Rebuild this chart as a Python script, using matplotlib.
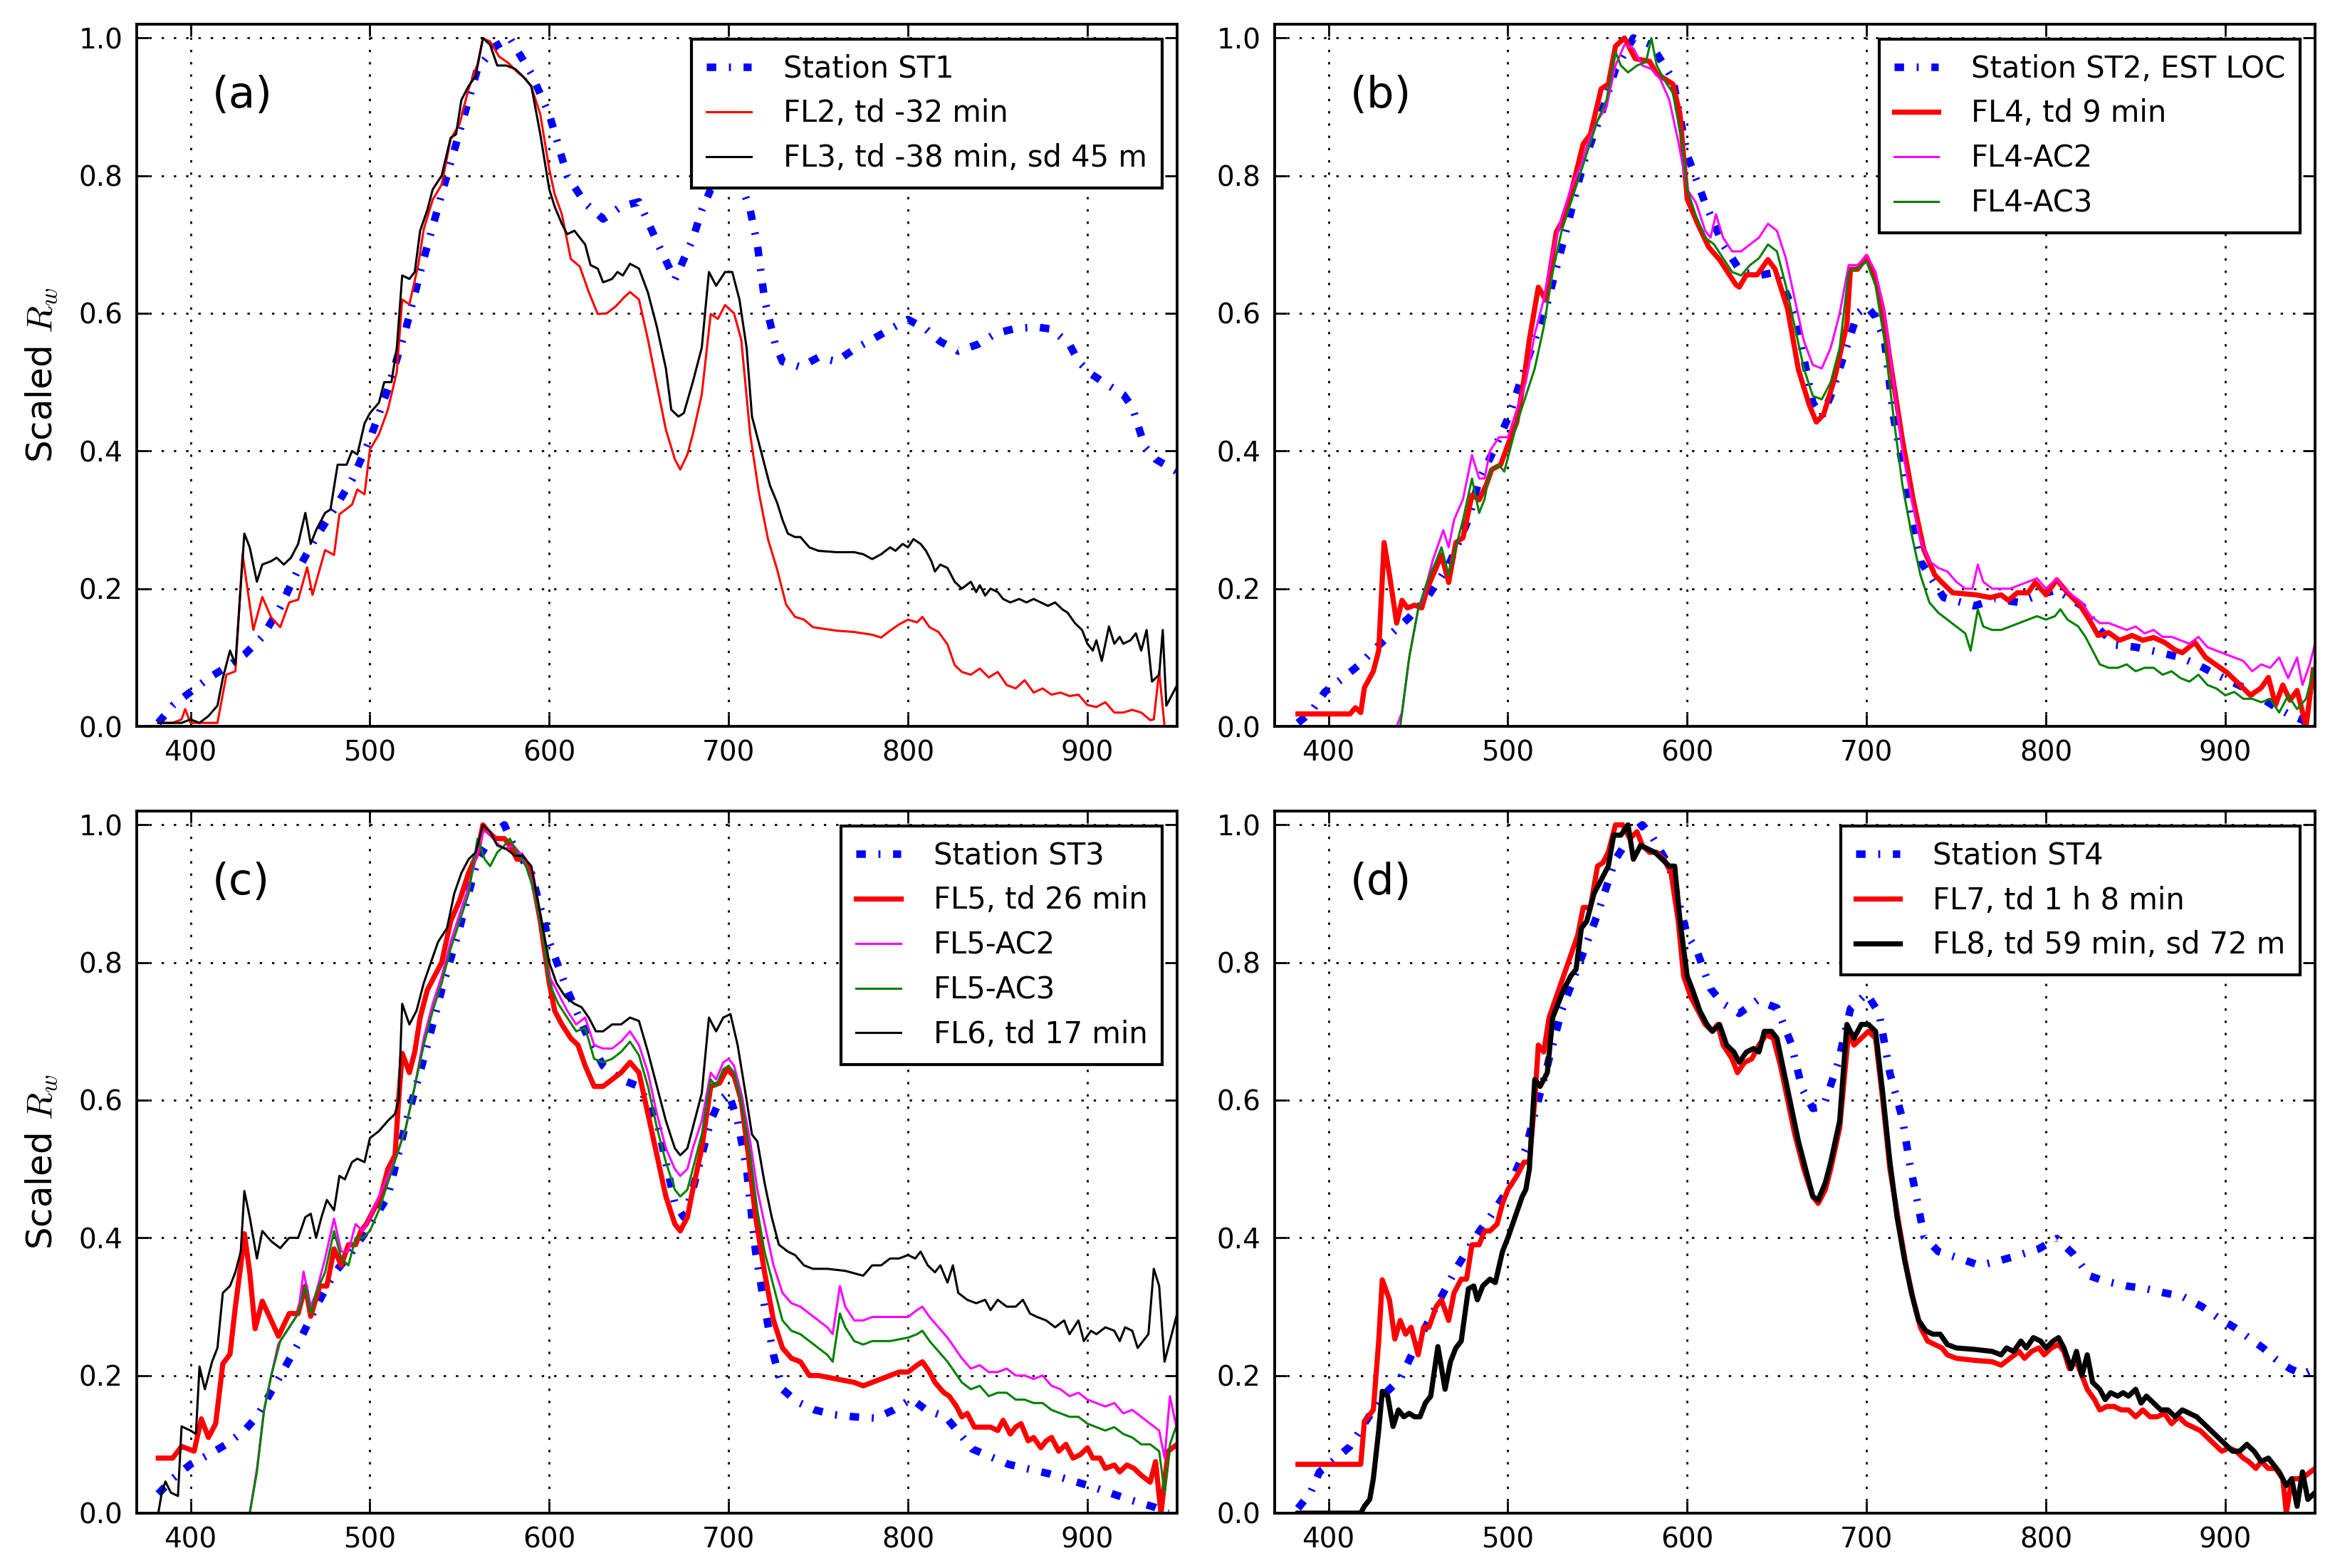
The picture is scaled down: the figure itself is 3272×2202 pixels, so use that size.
import matplotlib
matplotlib.use('Agg')
import matplotlib.pyplot as plt

# ---------------- data (wavelength nm, scaled Rw) ----------------
# Panel (a)
st1 = [(382,0.005),(390,0.03),(400,0.05),(410,0.07),(420,0.086),(430,0.104),(440,0.13),(450,0.173),
       (460,0.228),(470,0.275),(480,0.315),(490,0.358),(500,0.417),(510,0.49),(520,0.577),(530,0.679),
       (540,0.773),(550,0.864),(560,0.955),(570,0.988),(578,1.0),(590,0.948),(600,0.889),(610,0.80),
       (620,0.76),(630,0.737),(640,0.755),(650,0.762),(660,0.704),(670,0.649),(680,0.708),(685,0.75),
       (690,0.78),(700,0.80),(708,0.78),(712,0.75),(716,0.70),(720,0.62),(726,0.555),(730,0.53),
       (740,0.522),(750,0.536),(760,0.53),(770,0.548),(780,0.562),(790,0.577),(800,0.591),(810,0.577),
       (818,0.559),(828,0.545),(839,0.555),(849,0.571),(860,0.578),(872,0.58),(880,0.577),(890,0.555),
       (895,0.53),(902,0.512),(910,0.498),(920,0.482),(925,0.464),(932,0.406),(938,0.388),(950,0.37)]
fl2 = [(382,0.005),(390,0.005),(395,0.01),(397,0.025),(400,0.005),(410,0.005),(415,0.005),(420,0.075),
       (425,0.08),(429,0.25),(435,0.14),(440,0.188),(445,0.158),(450,0.144),(455,0.18),(460,0.184),
       (465,0.231),(468,0.191),(475,0.256),(480,0.249),(483,0.308),(490,0.322),(493,0.344),(497,0.337),
       (500,0.402),(505,0.424),(510,0.46),(515,0.515),(518,0.62),(522,0.613),(527,0.671),(530,0.722),
       (535,0.765),(540,0.787),(545,0.853),(550,0.875),(555,0.926),(560,0.962),(563,0.999),(567,0.995),
       (572,0.973),(577,0.964),(582,0.951),(587,0.94),(590,0.929),(595,0.889),(600,0.809),(603,0.773),
       (607,0.744),(612,0.679),(617,0.668),(622,0.631),(627,0.599),(632,0.60),(637,0.61),(642,0.624),
       (645,0.631),(650,0.62),(655,0.562),(660,0.496),(665,0.431),(670,0.388),(673,0.373),(677,0.395),
       (680,0.424),(685,0.482),(690,0.599),(694,0.592),(698,0.612),(703,0.60),(707,0.562),(712,0.424),
       (717,0.337),(722,0.271),(727,0.228),(732,0.177),(737,0.159),(742,0.155),(747,0.144),(760,0.139),
       (770,0.137),(780,0.133),(785,0.129),(790,0.139),(795,0.148),(800,0.155),(805,0.151),(808,0.159),
       (812,0.144),(817,0.137),(822,0.119),(826,0.089),(830,0.079),(835,0.075),(840,0.084),(845,0.071),
       (850,0.079),(855,0.06),(860,0.055),(865,0.067),(870,0.049),(875,0.055),(880,0.046),(885,0.049),
       (890,0.044),(895,0.046),(900,0.031),(905,0.028),(910,0.035),(915,0.02),(920,0.02),(925,0.024),
       (930,0.02),(935,0.009),(937,0.01),(940,0.08),(943,0.0),(950,0.0)]
fl3 = [(382,0.005),(395,0.005),(400,0.01),(405,0.005),(410,0.015),(415,0.03),(418,0.07),(422,0.11),
       (425,0.09),(430,0.28),(433,0.26),(437,0.21),(440,0.235),(445,0.24),(448,0.245),(452,0.235),
       (456,0.245),(460,0.265),(464,0.31),(467,0.265),(470,0.285),(475,0.31),(478,0.315),(482,0.38),
       (487,0.38),(490,0.40),(493,0.395),(497,0.44),(500,0.455),(505,0.47),(508,0.50),(512,0.50),
       (515,0.55),(518,0.655),(522,0.65),(525,0.66),(528,0.72),(532,0.75),(535,0.78),(540,0.80),
       (545,0.855),(548,0.86),(551,0.91),(555,0.93),(559,0.945),(563,1.0),(567,0.99),(571,0.96),
       (576,0.96),(581,0.955),(585,0.945),(590,0.93),(595,0.86),(600,0.78),(603,0.755),(607,0.73),
       (610,0.715),(614,0.72),(617,0.71),(620,0.70),(623,0.67),(627,0.665),(630,0.645),(635,0.65),
       (638,0.66),(641,0.655),(645,0.672),(650,0.665),(655,0.63),(660,0.58),(665,0.52),(668,0.46),
       (672,0.45),(675,0.455),(680,0.50),(685,0.55),(689,0.66),(693,0.64),(698,0.66),(702,0.66),
       (706,0.62),(710,0.55),(713,0.45),(716,0.42),(720,0.38),(723,0.35),(727,0.325),(730,0.30),
       (733,0.28),(737,0.275),(740,0.275),(745,0.26),(750,0.255),(760,0.253),(770,0.253),(775,0.25),
       (780,0.243),(785,0.25),(790,0.26),(793,0.255),(797,0.265),(800,0.26),(803,0.272),(807,0.265),
       (810,0.255),(813,0.24),(815,0.225),(818,0.235),(822,0.23),(826,0.21),(830,0.20),(835,0.21),
       (838,0.195),(840,0.205),(843,0.19),(846,0.20),(850,0.195),(853,0.185),(857,0.18),(862,0.185),
       (866,0.18),(870,0.185),(874,0.18),(878,0.175),(882,0.18),(886,0.17),(889,0.165),(893,0.15),
       (897,0.14),(900,0.12),(903,0.11),(905,0.125),(908,0.095),(912,0.145),(915,0.12),(918,0.13),
       (920,0.12),(924,0.125),(927,0.135),(930,0.11),(933,0.14),(936,0.065),(940,0.075),(942,0.14),
       (944,0.03),(947,0.045),(950,0.06)]

# Panel (b)
st2 = [(383,0.005),(390,0.02),(398,0.05),(408,0.07),(417,0.089),(425,0.11),(433,0.13),(445,0.158),
       (455,0.187),(467,0.234),(478,0.30),(484,0.358),(492,0.40),(501,0.453),(511,0.533),(521,0.605),
       (532,0.715),(542,0.817),(552,0.889),(560,0.955),(570,1.0),(580,0.99),(592,0.94),(600,0.83),
       (610,0.76),(620,0.70),(630,0.66),(640,0.655),(650,0.66),(660,0.60),(670,0.47),(675,0.45),
       (680,0.48),(690,0.56),(695,0.60),(700,0.61),(705,0.595),(710,0.56),(715,0.45),(720,0.38),
       (725,0.30),(730,0.24),(743,0.187),(760,0.175),(772,0.185),(785,0.18),(795,0.19),(806,0.198),
       (820,0.175),(830,0.14),(839,0.118),(850,0.115),(864,0.107),(875,0.10),(885,0.089),(895,0.075),
       (905,0.063),(915,0.05),(926,0.031),(935,0.018),(943,0.009),(946,0.003)]
fl4 = [(383,0.018),(412,0.018),(415,0.027),(418,0.02),(420,0.056),(425,0.08),(428,0.11),(431,0.267),
       (434,0.22),(438,0.15),(441,0.183),(444,0.172),(448,0.176),(452,0.172),(455,0.20),(460,0.23),
       (463,0.249),(467,0.209),(471,0.267),(475,0.274),(480,0.336),(484,0.329),(488,0.351),(491,0.373),
       (496,0.38),(500,0.409),(505,0.442),(509,0.504),(512,0.562),(517,0.638),(521,0.62),(527,0.718),
       (531,0.737),(534,0.762),(542,0.846),(546,0.86),(552,0.926),(556,0.933),(560,0.988),(565,1.0),
       (571,0.97),(579,0.966),(583,0.948),(592,0.933),(596,0.889),(600,0.766),(606,0.729),(612,0.696),
       (618,0.678),(627,0.642),(629,0.638),(633,0.656),(639,0.656),(645,0.678),(649,0.664),(656,0.606),
       (662,0.518),(668,0.467),(672,0.442),(676,0.453),(682,0.504),(689,0.584),(691,0.664),(695,0.664),
       (700,0.682),(705,0.649),(709,0.606),(713,0.533),(720,0.416),(726,0.329),(732,0.256),(738,0.22),
       (742,0.209),(748,0.194),(761,0.191),(769,0.187),(775,0.191),(779,0.183),(784,0.194),(790,0.194),
       (794,0.209),(800,0.191),(806,0.213),(812,0.194),(819,0.176),(825,0.151),(829,0.132),(835,0.136),
       (841,0.125),(848,0.132),(854,0.125),(860,0.129),(866,0.122),(872,0.111),(876,0.107),(883,0.122),
       (889,0.10),(895,0.089),(901,0.078),(907,0.063),(914,0.045),(920,0.056),(924,0.071),(928,0.031),
       (932,0.06),(936,0.038),(940,0.052),(945,0.0),(949,0.082)]
fl4_ac2 = [(438,0.0),(441,0.02),(445,0.10),(450,0.17),(453,0.19),(458,0.24),(462,0.27),(464,0.285),
           (467,0.26),(470,0.30),(475,0.33),(480,0.394),(484,0.36),(487,0.36),(490,0.40),(495,0.42),
           (500,0.42),(505,0.46),(510,0.50),(515,0.57),(520,0.62),(525,0.69),(530,0.74),(535,0.78),
           (540,0.81),(545,0.85),(550,0.88),(555,0.90),(560,0.96),(565,0.99),(570,0.985),(575,0.96),
           (580,0.955),(585,0.94),(590,0.91),(595,0.85),(600,0.78),(605,0.76),(610,0.72),(613,0.71),
           (616,0.744),(620,0.71),(625,0.69),(630,0.69),(635,0.70),(640,0.71),(645,0.73),(650,0.72),
           (655,0.68),(660,0.62),(665,0.56),(670,0.525),(675,0.52),(680,0.55),(685,0.60),(690,0.67),
           (695,0.67),(700,0.685),(705,0.66),(710,0.60),(715,0.50),(720,0.40),(725,0.33),(730,0.27),
           (735,0.24),(740,0.23),(745,0.225),(750,0.21),(755,0.20),(759,0.20),(762,0.235),(765,0.21),
           (770,0.20),(775,0.20),(780,0.20),(785,0.205),(790,0.21),(795,0.215),(800,0.20),(806,0.215),
           (810,0.20),(815,0.19),(820,0.18),(825,0.16),(830,0.15),(835,0.15),(840,0.145),(845,0.14),
           (850,0.145),(855,0.135),(860,0.14),(865,0.13),(870,0.13),(875,0.125),(880,0.12),(885,0.13),
           (890,0.115),(895,0.11),(900,0.105),(905,0.10),(910,0.095),(915,0.08),(920,0.09),(925,0.085),
           (930,0.10),(935,0.07),(940,0.10),(943,0.06),(947,0.09),(950,0.12)]
fl4_ac3 = [(440,0.0),(445,0.10),(450,0.17),(455,0.21),(460,0.24),(463,0.26),(467,0.22),(470,0.25),
           (475,0.30),(480,0.36),(484,0.31),(487,0.33),(490,0.37),(495,0.38),(498,0.37),(502,0.41),
           (505,0.44),(510,0.48),(515,0.52),(520,0.58),(525,0.66),(530,0.72),(535,0.76),(540,0.80),
           (545,0.84),(550,0.88),(555,0.91),(560,0.98),(563,0.96),(567,0.95),(572,0.96),(577,0.965),
           (580,1.0),(583,0.96),(587,0.94),(592,0.92),(597,0.85),(600,0.78),(605,0.74),(610,0.71),
           (615,0.70),(620,0.68),(625,0.66),(630,0.655),(635,0.67),(640,0.68),(645,0.70),(650,0.69),
           (655,0.64),(660,0.58),(665,0.52),(670,0.48),(675,0.475),(680,0.50),(685,0.55),(690,0.66),
           (695,0.665),(700,0.675),(705,0.64),(710,0.56),(715,0.45),(720,0.35),(725,0.28),(730,0.22),
           (735,0.18),(740,0.165),(745,0.155),(750,0.145),(755,0.135),(758,0.11),(762,0.17),(765,0.145),
           (770,0.14),(775,0.14),(780,0.145),(785,0.15),(790,0.155),(795,0.16),(800,0.155),(805,0.16),
           (808,0.17),(812,0.155),(818,0.145),(822,0.13),(825,0.115),(830,0.09),(835,0.085),(840,0.085),
           (845,0.09),(850,0.08),(855,0.085),(860,0.085),(865,0.075),(870,0.08),(875,0.07),(880,0.065),
           (885,0.075),(890,0.06),(895,0.055),(900,0.045),(905,0.05),(910,0.04),(915,0.04),(920,0.035),
           (925,0.04),(930,0.02),(935,0.045),(940,0.025),(945,0.04),(950,0.09)]

# Panel (c)
st3 = [(382,0.028),(390,0.05),(400,0.071),(410,0.085),(420,0.10),(430,0.12),(437,0.14),(449,0.195),
       (460,0.246),(470,0.30),(480,0.348),(490,0.38),(497,0.406),(510,0.46),(520,0.566),(530,0.66),
       (540,0.76),(550,0.85),(560,0.95),(570,0.99),(575,1.0),(580,0.97),(590,0.93),(600,0.83),
       (610,0.76),(620,0.70),(630,0.65),(640,0.63),(650,0.62),(660,0.57),(670,0.45),(675,0.43),
       (680,0.47),(690,0.57),(695,0.60),(700,0.61),(705,0.57),(710,0.50),(715,0.38),(720,0.30),
       (725,0.23),(730,0.18),(738,0.162),(748,0.15),(759,0.143),(770,0.14),(782,0.138),(792,0.15),
       (802,0.166),(810,0.15),(821,0.14),(836,0.093),(856,0.071),(879,0.057),(902,0.039),(923,0.02),
       (937,0.009),(945,0.0)]
fl5 = [(382,0.08),(390,0.08),(395,0.097),(402,0.09),(406,0.137),(410,0.11),(414,0.13),(418,0.217),
       (422,0.231),(425,0.30),(428,0.36),(430,0.406),(433,0.35),(436,0.268),(440,0.308),(445,0.28),
       (449,0.257),(455,0.29),(460,0.29),(464,0.33),(467,0.286),(472,0.33),(476,0.33),(480,0.384),
       (484,0.36),(488,0.39),(492,0.39),(495,0.41),(498,0.42),(502,0.44),(506,0.46),(510,0.50),
       (514,0.52),(516,0.60),(518,0.668),(522,0.64),(525,0.67),(528,0.72),(532,0.76),(536,0.78),
       (540,0.80),(545,0.86),(550,0.89),(555,0.93),(560,0.96),(563,1.0),(566,0.99),(570,0.98),
       (575,0.98),(578,0.97),(582,0.95),(586,0.95),(590,0.93),(595,0.86),(600,0.77),(603,0.73),
       (607,0.71),(612,0.69),(616,0.68),(620,0.65),(625,0.62),(630,0.62),(635,0.63),(640,0.64),
       (645,0.655),(650,0.64),(655,0.58),(660,0.52),(665,0.46),(670,0.42),(673,0.41),(677,0.43),
       (680,0.47),(685,0.53),(690,0.62),(695,0.625),(699,0.645),(703,0.635),(707,0.60),(711,0.52),
       (715,0.43),(720,0.35),(725,0.28),(730,0.24),(735,0.225),(740,0.22),(745,0.20),(750,0.20),
       (760,0.195),(770,0.19),(775,0.185),(780,0.19),(785,0.195),(790,0.20),(795,0.205),(800,0.205),
       (805,0.215),(808,0.22),(812,0.205),(815,0.19),(820,0.175),(823,0.17),(827,0.155),(830,0.14),
       (833,0.145),(837,0.125),(842,0.125),(846,0.125),(850,0.12),(853,0.135),(857,0.115),(860,0.125),
       (863,0.13),(867,0.105),(870,0.11),(874,0.095),(877,0.105),(880,0.11),(884,0.09),(888,0.10),
       (892,0.08),(896,0.085),(900,0.095),(903,0.08),(907,0.08),(910,0.065),(915,0.07),(918,0.06),
       (922,0.07),(926,0.065),(930,0.055),(935,0.045),(938,0.075),(941,0.0),(945,0.09),(950,0.10)]
fl5_ac2 = [(382,0.0),(433,0.0),(437,0.064),(441,0.15),(445,0.20),(449,0.246),(455,0.27),(460,0.29),
           (463,0.351),(467,0.30),(470,0.32),(475,0.37),(480,0.428),(484,0.38),(488,0.38),(492,0.42),
           (496,0.41),(500,0.43),(505,0.46),(510,0.49),(515,0.52),(520,0.56),(525,0.62),(530,0.69),
           (535,0.74),(540,0.78),(545,0.83),(550,0.87),(555,0.91),(560,0.96),(563,0.99),(566,0.99),
           (570,0.975),(575,0.965),(580,0.97),(585,0.955),(590,0.92),(595,0.86),(600,0.78),(605,0.755),
           (610,0.73),(615,0.71),(620,0.72),(625,0.68),(630,0.675),(635,0.675),(640,0.685),(645,0.70),
           (650,0.68),(655,0.64),(660,0.58),(665,0.53),(670,0.50),(673,0.49),(677,0.50),(680,0.53),
           (685,0.57),(690,0.64),(693,0.63),(697,0.655),(700,0.66),(703,0.65),(707,0.61),(712,0.54),
           (716,0.47),(720,0.42),(725,0.36),(730,0.32),(735,0.305),(740,0.30),(745,0.29),(750,0.28),
           (755,0.27),(758,0.26),(762,0.33),(765,0.30),(770,0.28),(775,0.28),(780,0.285),(790,0.285),
           (800,0.285),(805,0.295),(808,0.30),(812,0.285),(817,0.27),(822,0.255),(826,0.24),(830,0.225),
           (835,0.21),(840,0.215),(845,0.205),(850,0.205),(855,0.21),(860,0.20),(865,0.20),(870,0.195),
           (875,0.20),(880,0.185),(885,0.18),(890,0.17),(895,0.175),(900,0.165),(905,0.16),(910,0.155),
           (915,0.16),(920,0.145),(925,0.15),(930,0.14),(935,0.13),(940,0.12),(943,0.08),(946,0.17),
           (950,0.12)]
fl5_ac3 = [(382,0.0),(433,0.0),(437,0.06),(441,0.15),(445,0.20),(450,0.25),(455,0.27),(460,0.29),
           (464,0.33),(467,0.29),(470,0.32),(475,0.35),(480,0.41),(484,0.37),(488,0.36),(492,0.40),
           (496,0.40),(500,0.41),(505,0.44),(510,0.48),(515,0.52),(520,0.56),(525,0.62),(530,0.68),
           (535,0.73),(540,0.77),(545,0.82),(550,0.86),(555,0.90),(560,0.98),(564,0.95),(567,0.94),
           (571,0.96),(575,0.97),(578,0.98),(582,0.96),(587,0.94),(592,0.90),(597,0.83),(600,0.77),
           (605,0.74),(610,0.72),(615,0.70),(620,0.705),(625,0.66),(630,0.655),(635,0.66),(640,0.67),
           (645,0.685),(650,0.665),(655,0.62),(660,0.56),(665,0.51),(670,0.47),(673,0.46),(677,0.47),
           (680,0.50),(685,0.55),(690,0.63),(693,0.62),(697,0.645),(700,0.65),(703,0.64),(707,0.60),
           (712,0.52),(716,0.44),(720,0.38),(725,0.33),(730,0.28),(735,0.265),(740,0.26),(745,0.25),
           (750,0.24),(755,0.23),(758,0.22),(762,0.29),(765,0.27),(770,0.25),(775,0.245),(780,0.25),
           (790,0.25),(800,0.255),(805,0.26),(808,0.265),(812,0.25),(817,0.235),(822,0.22),(826,0.205),
           (830,0.19),(835,0.18),(840,0.185),(845,0.17),(850,0.175),(855,0.175),(860,0.165),(865,0.165),
           (870,0.16),(875,0.16),(880,0.15),(885,0.145),(890,0.14),(895,0.14),(900,0.13),(905,0.125),
           (910,0.12),(915,0.125),(920,0.115),(925,0.11),(930,0.10),(935,0.10),(940,0.09),(943,0.03),
           (946,0.10),(950,0.13)]
fl6 = [(382,0.0),(384,0.03),(386,0.046),(389,0.03),(393,0.025),(395,0.126),(400,0.12),(403,0.115),
       (405,0.213),(408,0.18),(412,0.22),(415,0.24),(418,0.32),(422,0.33),(425,0.35),(428,0.38),
       (430,0.468),(433,0.43),(437,0.37),(440,0.41),(445,0.395),(450,0.385),(455,0.40),(460,0.40),
       (464,0.43),(467,0.435),(470,0.40),(473,0.43),(476,0.455),(480,0.44),(483,0.49),(486,0.485),
       (490,0.51),(493,0.515),(497,0.51),(500,0.545),(505,0.555),(510,0.57),(514,0.58),(516,0.60),
       (518,0.74),(522,0.71),(526,0.73),(530,0.77),(534,0.80),(538,0.83),(543,0.85),(547,0.90),
       (551,0.93),(555,0.95),(559,0.96),(563,1.0),(567,0.99),(571,0.97),(576,0.965),(581,0.955),
       (585,0.955),(590,0.94),(595,0.87),(600,0.80),(604,0.77),(609,0.75),(614,0.74),(618,0.735),
       (622,0.72),(626,0.70),(630,0.70),(635,0.71),(640,0.71),(645,0.72),(650,0.715),(655,0.67),
       (660,0.62),(665,0.57),(670,0.53),(673,0.52),(677,0.53),(681,0.57),(685,0.61),(689,0.72),
       (693,0.70),(697,0.72),(701,0.725),(705,0.68),(710,0.60),(713,0.55),(716,0.54),(720,0.48),
       (724,0.43),(728,0.39),(733,0.38),(737,0.375),(742,0.36),(747,0.355),(755,0.355),(765,0.352),
       (775,0.345),(780,0.36),(785,0.36),(790,0.37),(795,0.37),(800,0.375),(804,0.37),(807,0.38),
       (811,0.36),(815,0.35),(818,0.36),(822,0.335),(825,0.36),(828,0.32),(833,0.31),(838,0.305),
       (843,0.31),(846,0.295),(850,0.31),(855,0.30),(860,0.30),(864,0.31),(868,0.29),(872,0.285),
       (877,0.28),(882,0.27),(887,0.28),(890,0.26),(895,0.28),(898,0.25),(902,0.265),(905,0.26),
       (910,0.27),(915,0.265),(918,0.25),(921,0.27),(925,0.265),(928,0.24),(931,0.25),(934,0.26),
       (937,0.355),(940,0.33),(943,0.22),(947,0.26),(950,0.29)]

# Panel (d)
st4 = [(383,0.007),(390,0.03),(395,0.06),(400,0.07),(412,0.097),(420,0.13),(430,0.17),(440,0.195),
       (450,0.25),(460,0.30),(472,0.359),(484,0.409),(490,0.43),(500,0.47),(510,0.53),(520,0.63),
       (530,0.73),(540,0.80),(550,0.87),(560,0.95),(570,0.99),(575,1.0),(580,0.985),(590,0.94),
       (595,0.89),(600,0.84),(605,0.82),(613,0.762),(620,0.74),(629,0.726),(639,0.745),(650,0.734),
       (658,0.682),(664,0.617),(670,0.588),(676,0.591),(684,0.653),(691,0.733),(700,0.755),(707,0.726),
       (713,0.639),(720,0.573),(724,0.508),(728,0.457),(732,0.402),(740,0.38),(753,0.369),(763,0.36),
       (773,0.366),(785,0.375),(796,0.384),(806,0.399),(815,0.377),(824,0.345),(833,0.337),(845,0.33),
       (856,0.326),(866,0.32),(876,0.315),(887,0.30),(897,0.282),(905,0.27),(914,0.253),(921,0.24),
       (928,0.224),(936,0.21),(943,0.202),(950,0.21)]
fl7 = [(383,0.071),(418,0.071),(420,0.133),(425,0.15),(428,0.25),(430,0.339),(434,0.31),(437,0.253),
       (440,0.28),(443,0.26),(446,0.27),(450,0.23),(453,0.27),(456,0.27),(460,0.30),(463,0.31),
       (467,0.28),(470,0.32),(474,0.34),(477,0.34),(480,0.39),(484,0.39),(487,0.41),(490,0.41),
       (494,0.42),(497,0.45),(500,0.47),(505,0.49),(509,0.51),(512,0.51),(515,0.60),(517,0.68),
       (520,0.67),(523,0.72),(527,0.75),(531,0.78),(535,0.81),(539,0.84),(542,0.88),(546,0.88),
       (550,0.94),(553,0.945),(556,0.96),(560,1.0),(564,1.0),(568,0.98),(572,0.99),(575,0.97),
       (579,0.96),(583,0.96),(587,0.95),(591,0.93),(595,0.86),(598,0.78),(602,0.75),(606,0.73),
       (610,0.71),(614,0.70),(617,0.71),(620,0.68),(625,0.66),(628,0.64),(632,0.655),(636,0.66),
       (640,0.68),(644,0.695),(648,0.69),(652,0.65),(656,0.60),(660,0.55),(665,0.50),(670,0.46),
       (673,0.45),(677,0.47),(680,0.50),(685,0.56),(690,0.70),(693,0.68),(697,0.69),(701,0.70),
       (705,0.69),(709,0.60),(713,0.50),(718,0.42),(722,0.36),(726,0.31),(730,0.27),(734,0.25),
       (738,0.245),(742,0.24),(745,0.23),(750,0.225),(760,0.222),(770,0.22),(775,0.215),(780,0.225),
       (785,0.235),(788,0.225),(792,0.235),(796,0.24),(799,0.23),(803,0.24),(807,0.245),(810,0.235),
       (813,0.21),(817,0.22),(820,0.20),(823,0.18),(827,0.165),(830,0.15),(834,0.155),(838,0.155),
       (842,0.15),(846,0.15),(850,0.14),(854,0.15),(858,0.14),(862,0.14),(866,0.145),(870,0.13),
       (874,0.14),(878,0.13),(882,0.125),(886,0.12),(890,0.11),(894,0.10),(898,0.09),(902,0.095),
       (906,0.09),(910,0.08),(913,0.075),(917,0.065),(920,0.075),(924,0.065),(928,0.065),(932,0.05),
       (934,0.0),(937,0.05),(941,0.05),(945,0.055),(950,0.065)]
fl8 = [(383,0.0),(418,0.0),(420,0.01),(423,0.02),(425,0.05),(428,0.12),(430,0.177),(433,0.17),
       (436,0.126),(439,0.15),(442,0.14),(445,0.145),(448,0.14),(451,0.14),(454,0.16),(457,0.17),
       (461,0.242),(465,0.18),(468,0.22),(471,0.24),(474,0.25),(478,0.326),(481,0.33),(483,0.31),
       (486,0.33),(490,0.34),(493,0.335),(497,0.38),(500,0.40),(504,0.43),(508,0.46),(510,0.47),
       (512,0.50),(515,0.63),(518,0.62),(522,0.64),(525,0.72),(528,0.74),(531,0.76),(535,0.78),
       (538,0.79),(541,0.85),(544,0.86),(548,0.90),(552,0.92),(556,0.94),(559,0.985),(563,0.985),
       (567,1.0),(570,0.95),(574,0.97),(578,0.965),(582,0.96),(586,0.95),(590,0.94),(593,0.94),
       (596,0.86),(600,0.78),(603,0.76),(607,0.73),(611,0.71),(614,0.70),(618,0.71),(622,0.68),
       (626,0.67),(629,0.655),(633,0.67),(637,0.675),(640,0.67),(643,0.70),(647,0.70),(650,0.69),
       (654,0.64),(658,0.59),(662,0.54),(666,0.50),(670,0.46),(673,0.455),(677,0.48),(680,0.51),
       (685,0.57),(689,0.71),(693,0.69),(697,0.71),(701,0.71),(705,0.70),(709,0.61),(713,0.51),
       (717,0.43),(721,0.37),(725,0.32),(729,0.28),(733,0.265),(737,0.26),(741,0.26),(745,0.245),
       (750,0.24),(760,0.238),(770,0.235),(775,0.23),(778,0.24),(782,0.235),(786,0.25),(789,0.24),
       (793,0.255),(797,0.25),(800,0.24),(804,0.25),(807,0.255),(810,0.24),(814,0.21),(817,0.235),
       (820,0.20),(823,0.23),(826,0.19),(830,0.18),(833,0.165),(836,0.175),(840,0.17),(843,0.175),
       (846,0.17),(850,0.18),(853,0.16),(856,0.17),(860,0.16),(864,0.15),(868,0.15),(872,0.14),
       (876,0.15),(880,0.145),(884,0.14),(888,0.13),(892,0.12),(896,0.11),(900,0.10),(904,0.09),
       (908,0.09),(912,0.10),(916,0.09),(920,0.075),(924,0.08),(927,0.07),(930,0.06),(934,0.04),
       (937,0.05),(940,0.01),(943,0.06),(946,0.02),(950,0.03)]

panel_tags = ['(a)', '(b)', '(c)', '(d)']
x_ticks = [400, 500, 600, 700, 800, 900]
y_ticks = [0.0, 0.2, 0.4, 0.6, 0.8, 1.0]

# ---------------- style ----------------
plt.rcParams.update({
    'font.family': ['DejaVu Sans'],
    'mathtext.fontset': 'cm',
    'lines.scale_dashes': False,
    'xtick.direction': 'in', 'ytick.direction': 'in',
    'xtick.top': True, 'ytick.right': True,
    'xtick.major.size': 6, 'ytick.major.size': 6,
    'xtick.major.width': 1.0, 'ytick.major.width': 1.0,
    'xtick.labelsize': 14, 'ytick.labelsize': 14,
    'xtick.major.pad': 6.5, 'ytick.major.pad': 7,
    'axes.linewidth': 1.4,
})

STATION = dict(color='#0000ff', lw=3.8, linestyle=(0, (4.8, 6.4, 1.0, 6.4)),
               dash_capstyle='butt')
THIN = 1.1
THICK = 2.6

W, H = 3272, 2202
DPI = 200
fig = plt.figure(figsize=(W / DPI, H / DPI), dpi=DPI)

ax_w = 1461 / W
ax_h = 986 / H
lefts = [192 / W, 1790 / W]
bottoms = [1 - 1020 / H, 1 - 2125 / H]

panels = [
    [(st1, 'Station ST1', STATION),
     (fl2, 'FL2, td -32 min', dict(color='#ff0000', lw=THIN)),
     (fl3, 'FL3, td -38 min, sd 45 m', dict(color='k', lw=THIN))],
    [(st2, 'Station ST2, EST LOC', STATION),
     (fl4, 'FL4, td 9 min', dict(color='#ff0000', lw=THICK)),
     (fl4_ac2, 'FL4-AC2', dict(color='#ff00ff', lw=THIN)),
     (fl4_ac3, 'FL4-AC3', dict(color='#008000', lw=THIN))],
    [(st3, 'Station ST3', STATION),
     (fl5, 'FL5, td 26 min', dict(color='#ff0000', lw=THICK)),
     (fl5_ac2, 'FL5-AC2', dict(color='#ff00ff', lw=THIN)),
     (fl5_ac3, 'FL5-AC3', dict(color='#008000', lw=THIN)),
     (fl6, 'FL6, td 17 min', dict(color='k', lw=THIN))],
    [(st4, 'Station ST4', STATION),
     (fl7, 'FL7, td 1 h 8 min', dict(color='#ff0000', lw=THICK)),
     (fl8, 'FL8, td 59 min, sd 72 m', dict(color='k', lw=THICK))],
]

for i, series in enumerate(panels):
    row, col = divmod(i, 2)
    ax = fig.add_axes([lefts[col], bottoms[row], ax_w, ax_h])
    for data, label, kw in series:
        wl = [p[0] for p in data]
        rw = [p[1] for p in data]
        ax.plot(wl, rw, label=label, **kw)
    ax.set_xlim(370, 950)
    ax.set_ylim(0, 1.02)
    ax.set_xticks(x_ticks)
    ax.set_yticks(y_ticks)
    ax.set_yticklabels([f'{v:.1f}' for v in y_ticks])
    ax.grid(True, color='k', linestyle=(0, (1.2, 5.0)), linewidth=1.0)
    ax.text(0.0726, 0.881, panel_tags[i], transform=ax.transAxes,
            fontsize=22, va='baseline', ha='left')
    if col == 0:
        ax.set_ylabel('Scaled $R_w$', fontsize=18, labelpad=10)
    leg = ax.legend(loc='upper right', fontsize=15, frameon=True, fancybox=False,
                    framealpha=1.0, edgecolor='k', borderpad=0.5, labelspacing=0.5,
                    handlelength=1.5, handletextpad=1.1, borderaxespad=0.5)
    leg.get_frame().set_linewidth(1.5)

fig.savefig('out.png', dpi=DPI)
